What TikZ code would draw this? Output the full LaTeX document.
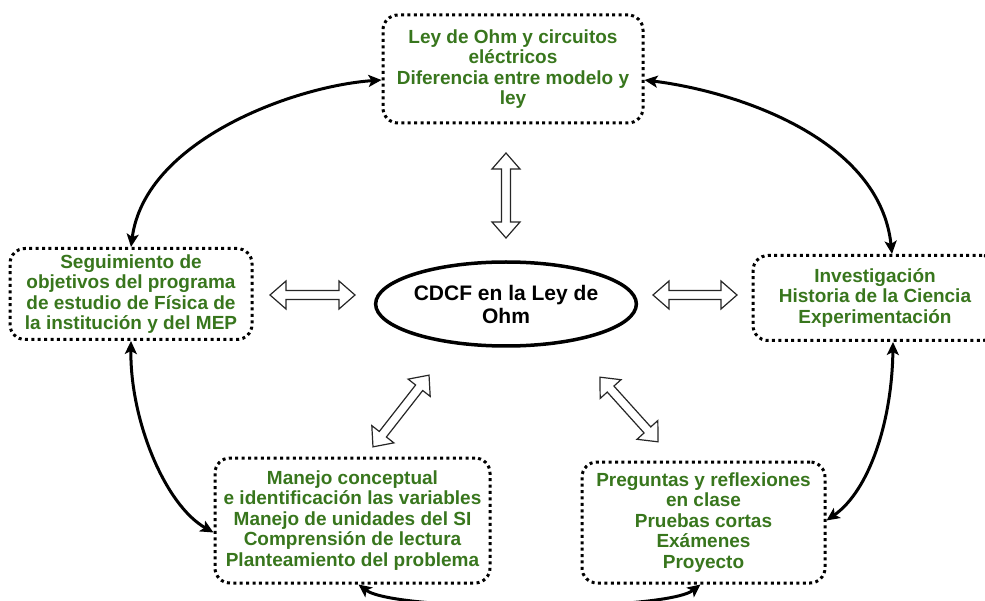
\documentclass[tikz,border=0pt]{standalone}
\usepackage{fontspec}
\setmainfont{Liberation Sans}
\usetikzlibrary{arrows.meta,calc,shapes.geometric}
\definecolor{dgreen}{HTML}{38761D}
\newcommand\hollowarrow[4]{%
  \begin{scope}[shift={(#1,#2)},rotate=#3]
    \draw[harrow] ({-#4/2},0) -- ({-#4/2+16},14) -- ({-#4/2+16},4.5) -- ({#4/2-16},4.5) -- ({#4/2-16},14) -- ({#4/2},0)
      -- ({#4/2-16},-14) -- ({#4/2-16},-4.5) -- ({-#4/2+16},-4.5) -- ({-#4/2+16},-14) -- cycle;
  \end{scope}}
\begin{document}
\begin{tikzpicture}[x=1pt,y=-1pt,
  box/.style={draw, line width=3pt, dash pattern=on 3pt off 3.4pt, rounded corners=15pt,
    inner sep=0pt, align=center, text=dgreen,
    font={\fontsize{19}{20.5}\selectfont\bfseries}},
  harrow/.style={draw=black!85, fill=white, line width=1.2pt, line join=miter},
  curvearrow/.style={line width=3pt,
    {Stealth[length=13pt,width=12pt,inset=3pt]}-{Stealth[length=13pt,width=12pt,inset=3pt]}}]
\useasboundingbox (0,0) rectangle (985,601);

\node[box, minimum width=260pt, minimum height=108pt] (top) at (513,69)
  {Ley de Ohm y circuitos\\el\'ectricos\\Diferencia entre modelo y\\ley};
\node[box, minimum width=242pt, minimum height=91pt] (left) at (131,294)
  {Seguimiento de\\objetivos del programa\\de estudio de F\'isica de\\la instituci\'on y del MEP};
\node[box, minimum width=244pt, minimum height=85pt] (right) at (875,298)
  {Investigaci\'on\\Historia de la Ciencia\\Experimentaci\'on};
\node[box, minimum width=275pt, minimum height=125pt] (bl) at (352.5,520.5)
  {Manejo conceptual\\e identificaci\'on las variables\\Manejo de unidades del SI\\Comprensi\'on de lectura\\Planteamiento del problema};
\node[box, minimum width=243pt, minimum height=121pt] (br) at (703.5,522.5)
  {Preguntas y reflexiones\\en clase\\Pruebas cortas\\Ex\'amenes\\Proyecto};
\node[draw, ellipse, line width=3.5pt, inner sep=0pt, minimum width=246pt, minimum height=84pt,
  align=center, font={\fontsize{21}{23}\selectfont\bfseries}] (core) at (506,304)
  {CDCF en la Ley de\\Ohm};

\hollowarrow{506}{195.5}{90}{85}
\hollowarrow{312.5}{295}{0}{85}
\hollowarrow{695}{295}{0}{84}
\hollowarrow{401}{411}{52}{91}
\hollowarrow{629}{409.5}{-48}{87}

\draw[curvearrow] ($(top.west)+(0,11)$) .. controls (295,86) and (145,140) .. (left.north);
\draw[curvearrow] ($(top.east)+(0,11)$) .. controls (740,92) and (880,140) .. ($(right.north)+(17,0)$);
\draw[curvearrow] (left.south) .. controls (130,420) and (165,505) .. ($(bl.west)+(0,12)$);
\draw[curvearrow] ($(right.south)+(18,0)$) .. controls (892,420) and (870,490) .. ($(br.east)+(0,-2)$);
\draw[curvearrow] ($(bl.south)+(6,0)$) .. controls (395,612) and (665,612) .. ($(br.south)+(-3,0)$);
\end{tikzpicture}
\end{document}
